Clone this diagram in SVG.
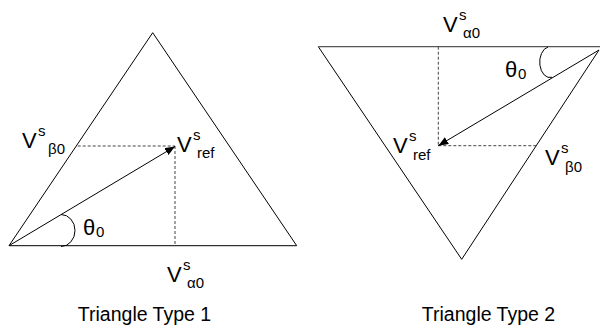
<svg xmlns="http://www.w3.org/2000/svg" width="600" height="329" viewBox="0 0 600 329">
<style>
.edge{fill:none;stroke:#000;stroke-width:1}
.dash{fill:none;stroke:#444;stroke-width:1;stroke-dasharray:3,2}
.t{font-family:"Liberation Sans",Arial,sans-serif;font-size:22px;fill:#000}
.s{font-family:"Liberation Sans",Arial,sans-serif;font-size:15px;fill:#000}
.cap{font-family:"Liberation Sans",Arial,sans-serif;font-size:19.5px;fill:#000;text-anchor:middle}
</style>
<defs>
<marker id="ah" viewBox="0 0 10 8" refX="10" refY="4" markerWidth="10" markerHeight="8" markerUnits="userSpaceOnUse" orient="auto">
<path d="M0,0 L10,4 L0,8 Z" fill="#000"/>
</marker>
</defs>
<rect width="600" height="329" fill="#fff"/>
<g id="triangle1">
<polygon class="edge" points="152.7,32.7 9,245.7 296.7,245.7"/>
</g>
<g id="triangle2">
<polyline class="edge" points="318.3,46.7 461.7,259.3 599,50"/>
<line x1="318.3" y1="46.7" x2="600" y2="46.7" stroke="#555" stroke-width="1.3"/>
</g>
<g id="connectors">
<line class="dash" x1="77.7" y1="146" x2="175" y2="146"/>
<line class="dash" x1="175" y1="146" x2="175" y2="245.7"/>
<line class="edge" x1="9" y1="245.7" x2="175" y2="146.5" marker-end="url(#ah)"/>
<path class="edge" d="M61,214.5 A14,16 0 0 1 61,246.5"/>
<line class="dash" x1="438.3" y1="46.7" x2="438.3" y2="145.7"/>
<line class="dash" x1="438.3" y1="145.7" x2="537" y2="145.7"/>
<line class="edge" x1="599" y1="50" x2="438.3" y2="145.7" marker-end="url(#ah)"/>
<path class="edge" d="M548,47 A10,15 0 0 0 552,77.3"/>
</g>
<g id="labels1">
<text class="t" x="22" y="148">V</text><text class="s" x="38" y="136">s</text><text class="s" x="48" y="154">β0</text>
<text class="t" x="177" y="152">V</text><text class="s" x="193" y="140">s</text><text class="s" x="197" y="158">ref</text>
<text class="t" x="167" y="282">V</text><text class="s" x="183" y="270">s</text><text class="s" x="187" y="288">α0</text>
<text class="t" x="83" y="235">θ</text><text class="s" x="96" y="237">0</text>
<text class="cap" x="144.5" y="321">Triangle Type 1</text>
</g>
<g id="labels2">
<text class="t" x="443" y="32">V</text><text class="s" x="459" y="20">s</text><text class="s" x="463" y="38">α0</text>
<text class="t" x="393" y="153">V</text><text class="s" x="409" y="141">s</text><text class="s" x="413" y="160">ref</text>
<text class="t" x="545" y="165">V</text><text class="s" x="561" y="153">s</text><text class="s" x="565" y="172">β0</text>
<text class="t" x="505" y="77">θ</text><text class="s" x="518" y="79">0</text>
<text class="cap" x="488.5" y="321">Triangle Type 2</text>
</g>
</svg>
